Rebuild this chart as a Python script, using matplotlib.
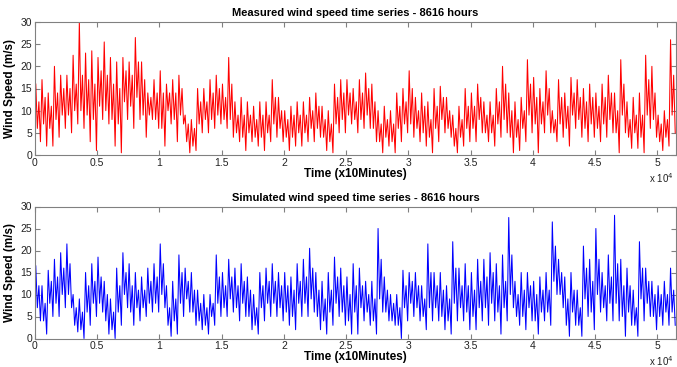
import numpy as np
import matplotlib
matplotlib.use("Agg")
import matplotlib.pyplot as plt

plt.rcParams['font.family'] = ['Liberation Sans', 'DejaVu Sans']

# bin width in samples (10-minute steps). For each bin: spike max, spike min,
# and the top / bottom of the dense band, all read off the plot
BIN = 500

measured_hi = [
    16, 17, 14, 20, 18, 18, 22.5, 30, 23, 23.5,
    22, 25.5, 22, 21, 22, 21, 26.5, 21, 14, 17,
    19, 16, 17, 18, 9, 8, 15, 15, 17, 18,
    16, 22, 12, 13, 12, 11, 12, 12, 17, 13,
    10, 11, 12, 12, 13, 14, 11, 10, 16, 17,
    17, 15, 17, 18.5, 16, 10, 11, 10, 14, 15,
    19, 13, 14, 12, 15, 15.5, 13, 9, 11, 15,
    14, 16, 12, 12, 15, 20, 14, 12, 13, 21.5,
    17.5, 15, 19, 10, 17, 14, 17.5, 17, 15, 16,
    14, 16, 18, 14, 21.5, 12, 13, 14, 22.5, 20,
    9, 10, 26,
]
measured_lo = [
    3, 2, 2, 4, 6, 5, 7, 6, 3, 1,
    8, 7, 2, 0.5, 8, 6, 8, 4, 8, 6,
    2, 7, 3, 7, 0.5, 1, 5, 5, 6, 7,
    6, 4, 3, 1, 3, 2, 1, 3, 4, 3,
    1, 2, 2, 3, 3, 4, 1, 0.5, 5, 5,
    7, 5, 6, 6, 3, 0.5, 2, 0.5, 3, 5,
    4, 3, 2, 0.5, 3, 5, 4, 0.5, 2, 3,
    3, 5, 3, 2, 4, 5, 0.5, 1, 3, 5,
    0.5, 5, 5, 3, 4, 2, 6, 4, 3, 4,
    3, 4, 5, 0.5, 5, 1.5, 1.5, 0.5, 6, 4,
    1, 2, 5,
]
measured_band_top = [
    12, 13, 11, 14, 15, 15, 16, 18, 17, 16,
    19, 18, 16, 15, 19, 18, 21, 17, 13, 14,
    14, 14, 14, 15, 7, 6, 12, 12, 14, 15,
    13, 16, 9, 9, 9, 8, 9, 9, 13, 10,
    8, 9, 9, 9, 10, 11, 8, 7, 13, 14,
    14, 12, 14, 15, 12, 7, 8, 7, 11, 12,
    15, 10, 11, 8, 11, 13, 10, 6, 8, 11,
    11, 13, 9, 9, 12, 16, 10, 8, 10, 16,
    13, 12, 15, 8, 13, 11, 14, 13, 12, 13,
    11, 13, 14, 10, 16, 8, 9, 9, 17, 14,
    7, 8, 18,
]
measured_band_bot = [
    6, 7, 6, 8, 9, 9, 10, 10, 9, 8,
    11, 10, 8, 7, 12, 11, 13, 9, 9, 8,
    6, 10, 8, 9, 3, 2, 7, 8, 8, 9,
    8, 8, 5, 4, 5, 4, 4, 5, 7, 6,
    4, 4, 5, 5, 6, 6, 4, 3, 7, 8,
    9, 8, 8, 9, 6, 3, 4, 3, 6, 7,
    7, 6, 5, 4, 6, 8, 6, 2, 4, 6,
    6, 8, 5, 5, 7, 8, 4, 4, 6, 9,
    7, 7, 9, 5, 7, 6, 9, 8, 6, 7,
    6, 7, 8, 5, 9, 4, 5, 4, 9, 8,
    3, 4, 9,
]

simulated_hi = [
    16.5, 12, 15.5, 18, 19.5, 21.5, 10, 9, 15, 17,
    18.5, 13, 9, 16, 19.5, 17, 15, 14, 16, 17,
    21.5, 12, 13, 19, 16, 15, 11, 10, 10, 19,
    15, 18, 16, 17, 14, 10, 15, 16, 17, 15,
    15, 14, 17, 18, 20.5, 15, 13, 15, 18.5, 16,
    14, 17, 16, 13, 13, 25, 14, 10, 10, 15.5,
    15, 15, 12, 21.5, 15, 15, 12, 22, 16, 17,
    15, 18, 18, 19.5, 17, 19, 27.5, 13, 15, 15,
    13, 14, 15, 26.5, 18, 14, 15, 11, 21, 18,
    25, 15, 19, 28, 18, 16, 11, 22, 16, 13,
    12, 13, 16,
]
simulated_lo = [
    4, 1, 5, 5, 7, 7, 1.5, 0, 3, 5,
    6, 1, 0, 3, 7, 3, 4, 5, 6, 6,
    7, 0.5, 1, 5, 6, 3, 2, 1, 3, 5,
    5, 6, 4, 5, 2, 1, 4, 5, 5, 4,
    3, 2, 5, 5, 6, 2, 1, 3, 5, 3,
    1, 1, 4, 3, 1, 6, 4, 3, 0, 4,
    5, 4, 2, 4, 4, 2, 1, 4, 4, 2,
    2, 4, 3, 4, 1, 4, 7, 3, 2, 4,
    1, 4, 3, 10, 7, 0.5, 3, 0.5, 5, 2,
    6, 4, 4, 4, 0.5, 3, 0.5, 4, 5, 2,
    3, 3, 3,
]
simulated_band_top = [
    12, 8, 13, 14, 16, 17, 7, 6, 12, 13,
    14, 10, 6, 12, 15, 12, 11, 11, 13, 14,
    17, 7, 9, 15, 13, 11, 8, 7, 8, 14,
    12, 14, 12, 13, 11, 7, 12, 13, 13, 12,
    12, 11, 13, 14, 16, 11, 9, 11, 14, 12,
    10, 12, 12, 10, 9, 18, 11, 8, 7, 12,
    13, 12, 9, 15, 12, 11, 9, 16, 12, 12,
    11, 13, 14, 15, 12, 13, 19, 10, 11, 12,
    10, 11, 11, 21, 15, 9, 11, 7, 16, 13,
    18, 12, 14, 17, 12, 12, 7, 16, 13, 10,
    10, 10, 11,
]
simulated_band_bot = [
    7, 4, 8, 8, 10, 10, 3, 2, 6, 8,
    8, 4, 2, 6, 10, 6, 7, 7, 8, 8,
    10, 3, 4, 8, 9, 6, 4, 3, 5, 8,
    7, 9, 7, 8, 5, 3, 7, 8, 8, 7,
    6, 5, 8, 8, 9, 5, 4, 6, 8, 6,
    4, 6, 7, 6, 4, 9, 6, 4, 3, 7,
    8, 7, 5, 7, 7, 5, 4, 8, 7, 6,
    5, 7, 7, 8, 6, 7, 10, 5, 5, 7,
    4, 6, 6, 13, 10, 3, 6, 3, 9, 6,
    10, 7, 8, 8, 5, 6, 3, 9, 8, 5,
    5, 6, 6,
]

xtick_vals = [0, 5000, 10000, 15000, 20000, 25000, 30000, 35000, 40000, 45000, 50000]
xtick_labels = ['0', '0.5', '1', '1.5', '2', '2.5', '3', '3.5', '4', '4.5', '5']
ytick_vals = [0, 5, 10, 15, 20, 25, 30]


def trace(hi, band_bot, band_top, lo):
    # per bin: spike up, drop into band, back up, spike down
    cols = [np.asarray(v, float) for v in (hi, band_bot, band_top, lo)]
    start = np.arange(len(hi)) * BIN
    x = np.column_stack([start + BIN * f for f in (0.125, 0.375, 0.625, 0.875)]).ravel()
    y = np.column_stack(cols).ravel()
    return x, y


def style_axes(ax, title):
    ax.set_xlim(0, 51500)
    ax.set_ylim(0, 30)
    ax.set_xticks(xtick_vals)
    ax.set_xticklabels(xtick_labels)
    ax.set_yticks(ytick_vals)
    ax.tick_params(direction='in', length=3.5, width=0.8, colors='#808080',
                   labelcolor='#222222', labelsize=7.5, top=True, right=True, pad=2)
    for s in ax.spines.values():
        s.set_color('#808080')
        s.set_linewidth(0.8)
    ax.set_title(title, fontsize=8, fontweight='bold', pad=4)
    ax.set_xlabel('Time (x10Minutes)', fontsize=8.5, fontweight='bold', labelpad=0)
    ax.set_ylabel('Wind Speed (m/s)', fontsize=8.5, fontweight='bold', labelpad=3)


fig = plt.figure(figsize=(6.77, 3.67), dpi=100)
ax1 = fig.add_axes([35 / 677, 1 - 155 / 367, 641 / 677, 133 / 367])
ax2 = fig.add_axes([35 / 677, 1 - 338.5 / 367, 641 / 677, 132 / 367])

x, y = trace(measured_hi, measured_band_bot, measured_band_top, measured_lo)
ax1.plot(x, y, color='#ff0000', linewidth=0.75)
style_axes(ax1, 'Measured wind speed time series - 8616 hours')

x, y = trace(simulated_hi, simulated_band_bot, simulated_band_top, simulated_lo)
ax2.plot(x, y, color='#0000ff', linewidth=0.75)
style_axes(ax2, 'Simulated wind speed time series - 8616 hours')

fig.text(674 / 677, 1 - 178 / 367, 'x 10$^4$', ha='right', va='center', fontsize=7, color='#222222')
fig.text(674 / 677, 1 - 361 / 367, 'x 10$^4$', ha='right', va='center', fontsize=7, color='#222222')

fig.savefig('out.png', dpi=100)
